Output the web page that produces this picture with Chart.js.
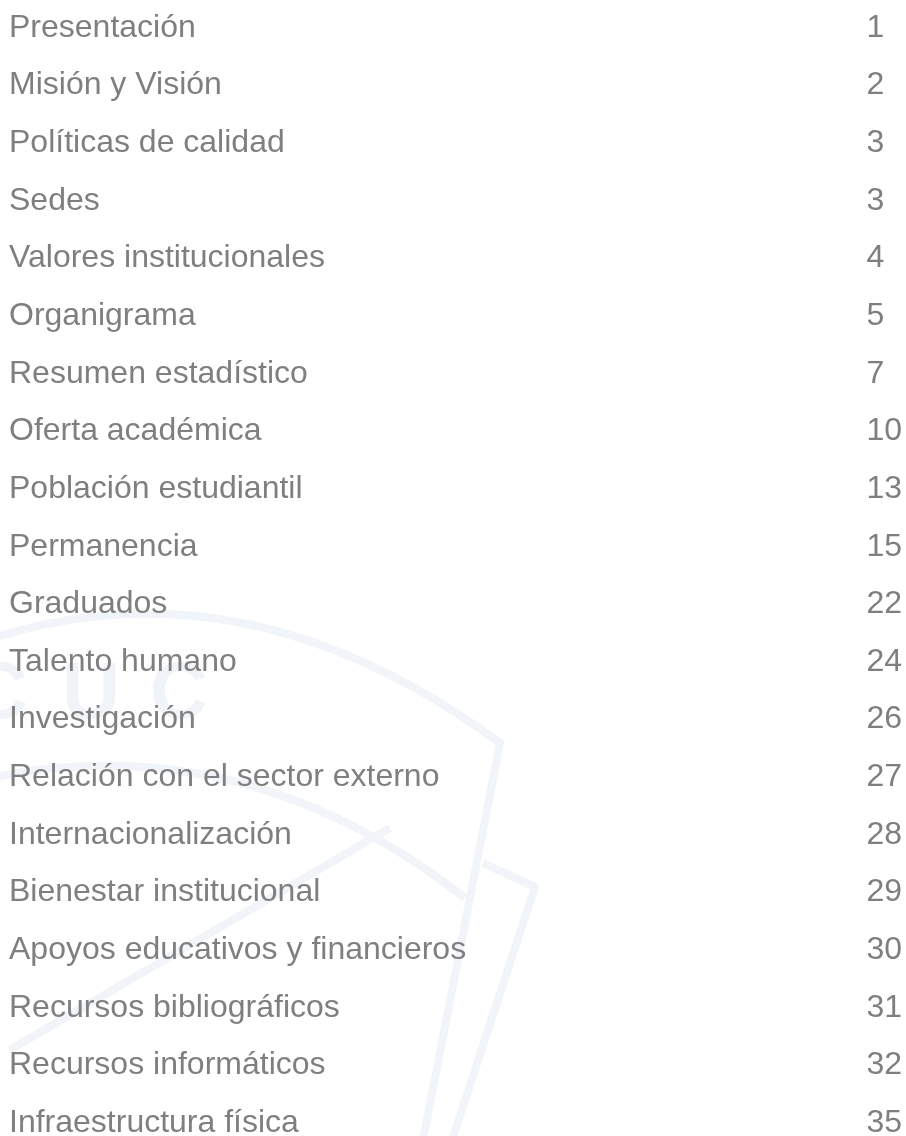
<!DOCTYPE html>
<html>
<head>
<meta charset="utf-8">
<script src="https://cdn.jsdelivr.net/npm/chart.js@4.4.1/dist/chart.umd.min.js"></script>
<style>
  html, body { margin: 0; padding: 0; background: #ffffff; }
  #wrap { width: 906px; height: 1136px; position: relative; }
</style>
</head>
<body>
<div id="wrap"><canvas id="indexChart"></canvas></div>
<script>
// Índice - secciones y página de cada una
const sections = [
    'Presentación', 'Misión y Visión', 'Políticas de calidad', 'Sedes',
    'Valores institucionales', 'Organigrama', 'Resumen estadístico',
    'Oferta académica', 'Población estudiantil', 'Permanencia', 'Graduados',
    'Talento humano', 'Investigación', 'Relación con el sector externo',
    'Internacionalización', 'Bienestar institucional',
    'Apoyos educativos y financieros', 'Recursos bibliográficos',
    'Recursos informáticos', 'Infraestructura física'
];
const pages = [1, 2, 3, 3, 4, 5, 7, 10, 13, 15, 22, 24, 26, 27, 28, 29, 30, 31, 32, 35];
const pageLabels = pages.map(String);

const TEXT = '#7f7f7f';
const FONT = { family: "'Liberation Sans', Arial, sans-serif", size: 32, lineHeight: 0.8 };

// faint shield watermark behind the list
const watermark = {
    id: 'watermark',
    beforeDraw(chart) {
        const ctx = chart.ctx;
        ctx.save();
        ctx.strokeStyle = '#f1f4f8';
        ctx.lineWidth = 8;
        ctx.lineJoin = 'round';
        ctx.beginPath();
        ctx.moveTo(-40, 650);
        ctx.quadraticCurveTo(230, 545, 500, 743);
        ctx.lineTo(423, 1140);
        ctx.stroke();
        ctx.beginPath();
        ctx.moveTo(-40, 785);
        ctx.quadraticCurveTo(230, 715, 465, 898);
        ctx.stroke();
        ctx.beginPath();
        ctx.moveTo(483, 863);
        ctx.lineTo(535, 887);
        ctx.lineTo(452, 1140);
        ctx.stroke();
        ctx.beginPath();
        ctx.moveTo(10, 1050);
        ctx.lineTo(390, 828);
        ctx.stroke();
        ctx.fillStyle = '#f0f3f7';
        ctx.font = "bold 80px 'Liberation Sans', Arial, sans-serif";
        ctx.textBaseline = 'alphabetic';
        ctx.fillText('C', -30, 718);
        ctx.fillText('U', 62, 718);
        ctx.fillText('C', 150, 718);
        ctx.restore();
    }
};

const ctx = document.getElementById('indexChart').getContext('2d');
const indexChart = new Chart(ctx, {
    type: 'bar',
    data: {
        labels: sections,
        datasets: [{
            label: 'Página',
            data: pages,
            backgroundColor: 'rgba(0,0,0,0)',
            borderWidth: 0,
            yAxisID: 'y'
        }]
    },
    options: {
        indexAxis: 'y',
        responsive: true, maintainAspectRatio: false,
        animation: false,
        layout: { padding: { top: 28, bottom: 13, left: 9, right: 4 } },
        scales: {
            x: { display: false, min: 0, max: 40 },
            y: {
                type: 'category',
                position: 'left',
                offset: false,
                grid: { display: false, drawTicks: false },
                border: { display: false },
                ticks: { autoSkip: false, color: TEXT, font: FONT, padding: 0, crossAlign: 'far' },
                afterFit: (scale) => { scale.width = 500; }
            },
            y2: {
                type: 'category',
                position: 'right',
                labels: pageLabels,
                offset: false,
                grid: { display: false, drawTicks: false },
                border: { display: false },
                ticks: { autoSkip: false, color: TEXT, font: FONT, padding: 0 }
            }
        },
        plugins: { legend: { display: false }, tooltip: { enabled: false } }
    },
    plugins: [watermark]
});
</script>
</body>
</html>
